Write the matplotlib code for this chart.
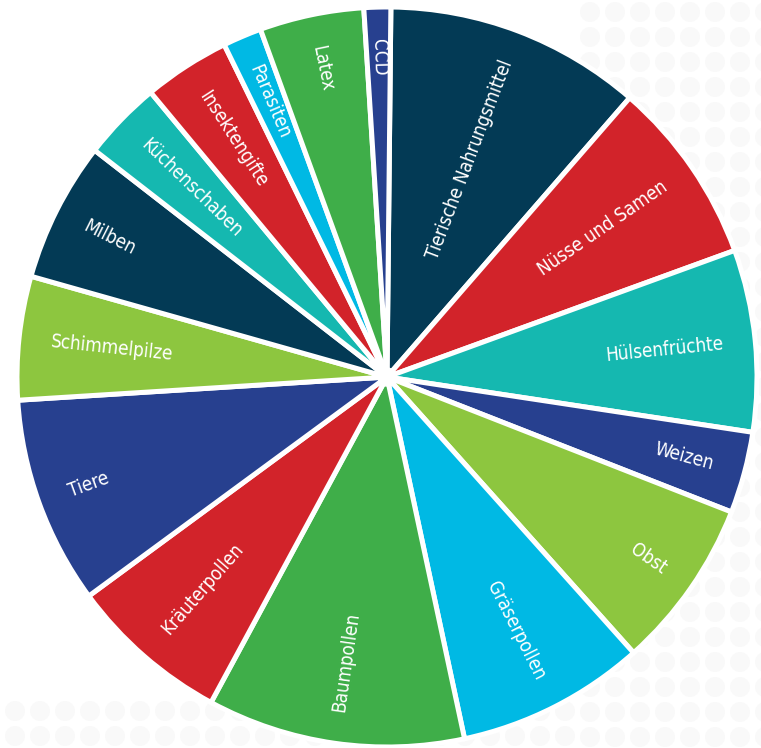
import numpy as np
import matplotlib
matplotlib.use("Agg")
import matplotlib.pyplot as plt
from matplotlib import font_manager
from matplotlib.font_manager import FontProperties

# ---- data (clockwise from top) ----
categories = ["Tierische Nahrungsmittel", "Nüsse und Samen", "Hülsenfrüchte", "Weizen",
              "Obst", "Gräserpollen", "Baumpollen", "Kräuterpollen", "Tiere",
              "Schimmelpilze", "Milben", "Küchenschaben", "Insektengifte",
              "Parasiten", "Latex", "CCD"]
shares = [40.4, 29.0, 28.6, 12.8, 26.8, 29.7, 40.5, 25.3, 32.7,
          19.4, 22.0, 12.5, 13.6, 6.1, 16.4, 4.2]
colors = ["#033a55", "#d2232a", "#15b8b0", "#27408f", "#8dc63f", "#00b9e4", "#3fae49",
          "#d2232a", "#27408f", "#8dc63f", "#033a55", "#15b8b0", "#d2232a",
          "#00b9e4", "#3fae49", "#27408f"]

# ---- pick a narrow font if one is installed ----
fp = None
cands = []
for f in font_manager.fontManager.ttflist:
    fn = f.fname.lower()
    if f.style != "normal" or f.weight not in (400, "normal", "regular"):
        continue
    if "narrow" in fn or "condensed" in fn or "cond" in fn:
        if "bold" in fn or "light" in fn or "oblique" in fn or "italic" in fn:
            continue
        cands.append(f.fname)
pref = ["liberationsansnarrow-regular", "dejavusanscondensed.", "opensans_condensed",
        "opensans-condensed", "robotocondensed-regular", "condensed"]
FS = 13.5
for p in pref:
    hit = [c for c in cands if p in c.lower().replace(" ", "")]
    if hit:
        fp = FontProperties(fname=hit[0], size=FS)
        break
if fp is None and cands:
    fp = FontProperties(fname=cands[0], size=FS)
if fp is None:
    fp = FontProperties(family="DejaVu Sans", stretch="condensed", size=12.5)

W, H = 761, 748
fig = plt.figure(figsize=(W / 100, H / 100), dpi=100)
fig.patch.set_facecolor("white")
ax = fig.add_axes([0, 0, 1, 1])

# faint dotted background pattern (right side and bottom strip)
for gx in np.arange(590, W + 20, 25):
    for gy in np.arange(H - 12, -20, -25):
        ax.add_patch(plt.Circle((gx, gy), 10, color="#f9f9f9", lw=0, zorder=0))
for gx in np.arange(-10, 590, 25):
    for gy in np.arange(12, 62, 25):
        ax.add_patch(plt.Circle((gx, gy), 10, color="#f9f9f9", lw=0, zorder=0))

cx, cy, R = 387, H - 377, 370
wedges, _ = ax.pie(shares, colors=colors, startangle=89.4, counterclock=False,
                   center=(cx, cy), radius=R, frame=True,
                   wedgeprops=dict(edgecolor="white", linewidth=3.6))
ax.set_xlim(0, W)
ax.set_ylim(0, H)
ax.set_aspect("equal")
ax.axis("off")

ax.add_patch(plt.Circle((cx, cy), 9, color="white", zorder=5))

r_lab = 338
for w, lab in zip(wedges, categories):
    mid = (w.theta1 + w.theta2) / 2.0
    a = np.deg2rad(mid)
    x, y = cx + r_lab * np.cos(a), cy + r_lab * np.sin(a)
    if np.cos(a) >= 0:
        rot, ha = mid, "right"
    else:
        rot, ha = mid - 180, "left"
    ax.text(x, y, lab, rotation=rot, rotation_mode="anchor", ha=ha, va="center",
            color="white", fontproperties=fp, zorder=6)

fig.savefig("out.png", dpi=100, facecolor="white")
